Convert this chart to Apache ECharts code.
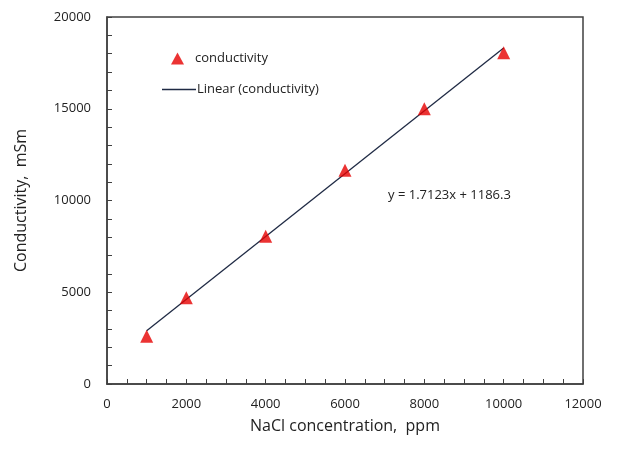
<!DOCTYPE html>
<html>
<head>
<meta charset="utf-8">
<script src="https://cdn.jsdelivr.net/npm/echarts@6/dist/echarts.min.js"></script>
<style>
  html, body { margin: 0; padding: 0; background: #fff; }
  #chart { width: 617px; height: 452px; }
</style>
</head>
<body>
<div id="chart"></div>
<script>
// NaCl concentration (ppm)
const concentration = [1000, 2000, 4000, 6000, 8000, 10000];
// measured conductivity (mSm)
const conductivity = [2600, 4700, 8050, 11650, 15000, 18050];
// linear trend coefficients: y = slope * x + intercept
const trendSlope = [1.7123];
const trendIntercept = [1186.3];
const trendX = [1000, 10000];

const font = "Open Sans";
const axisColor = "#404040";

const scatterData = concentration.map((x, i) => [x, conductivity[i]]);
const trendData = trendX.map((x) => [x, trendSlope[0] * x + trendIntercept[0]]);

// tick-only axis (minor ticks, pointing inward)
function tickAxis(min, max, step) {
  return {
    type: "value",
    min: min,
    max: max,
    interval: step,
    axisLine: { show: false },
    axisTick: { show: true, inside: true, length: 5, lineStyle: { color: axisColor } },
    axisLabel: { show: false },
    splitLine: { show: false },
  };
}

const myChart = echarts.init(document.getElementById("chart"));
const option = {
  backgroundColor: "#fff",
  animation: false,
  textStyle: { fontFamily: font },
  grid: {
    left: 107,
    right: 34,
    top: 17,
    bottom: 68,
    show: true,
    borderColor: axisColor,
    borderWidth: 1.5,
  },
  legend: [
    {
      left: 166,
      top: 47,
      itemWidth: 13,
      itemHeight: 12,
      itemGap: 10,
      icon: "triangle",
      textStyle: { fontFamily: font, fontSize: 13, color: "#222", padding: [0, 0, 0, 6] },
      data: ["conductivity"],
    },
    {
      left: 157,
      top: 78,
      itemWidth: 34,
      itemHeight: 1.5,
      icon: "rect",
      itemStyle: { color: "#1f2a44" },
      textStyle: { fontFamily: font, fontSize: 13, color: "#222", padding: [0, 0, 0, -4] },
      data: ["Linear (conductivity)"],
    },
  ],
  xAxis: [
    {
      type: "value",
      min: 0,
      max: 12000,
      interval: 2000,
      name: "NaCl concentration,  ppm",
      nameLocation: "middle",
      nameGap: 34,
      nameTextStyle: { fontFamily: font, fontSize: 16, color: "#222" },
      axisLine: { show: true, lineStyle: { color: axisColor, width: 1.5 } },
      axisTick: { show: true, inside: true, length: 5, lineStyle: { color: axisColor } },
      axisLabel: { fontFamily: font, fontSize: 13, color: "#222", margin: 14, formatter: (v) => String(v) },
      splitLine: { show: false },
    },
    Object.assign(tickAxis(0, 12000, 500), { position: "bottom" }),
  ],
  yAxis: [
    {
      type: "value",
      min: 0,
      max: 20000,
      interval: 5000,
      name: "Conductivity,  mSm",
      nameLocation: "middle",
      nameGap: 78,
      nameTextStyle: { fontFamily: font, fontSize: 16, color: "#222" },
      axisLine: { show: true, lineStyle: { color: axisColor, width: 1.5 } },
      axisTick: { show: true, inside: true, length: 5, lineStyle: { color: axisColor } },
      axisLabel: { fontFamily: font, fontSize: 13, color: "#222", margin: 16, formatter: (v) => String(v) },
      splitLine: { show: false },
    },
    Object.assign(tickAxis(0, 20000, 1000), { position: "left" }),
  ],
  series: [
    {
      name: "conductivity",
      type: "scatter",
      symbol: "triangle",
      symbolSize: 13,
      itemStyle: { color: "#e60000" },
      data: scatterData,
      z: 3,
    },
    {
      name: "Linear (conductivity)",
      type: "line",
      symbol: "none",
      lineStyle: { color: "#1f2a44", width: 1.3 },
      data: trendData,
      z: 2,
    },
  ],
  graphic: [
    {
      type: "text",
      left: 388,
      top: 189,
      style: {
        text: "y = " + trendSlope[0] + "x + " + trendIntercept[0],
        fontFamily: font,
        fontSize: 13,
        fill: "#222",
      },
    },
  ],
};
myChart.setOption(option);
</script>
</body>
</html>
